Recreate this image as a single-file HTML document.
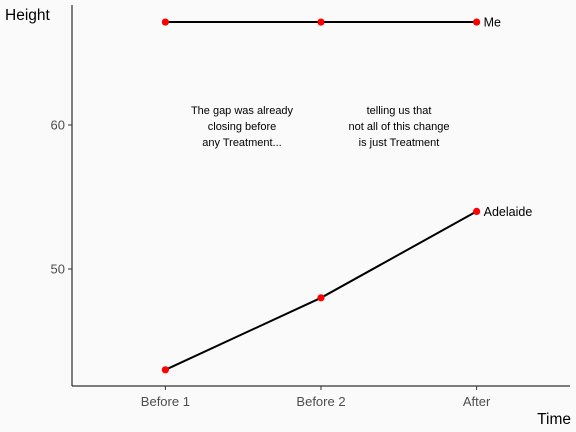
<!DOCTYPE html>
<html><head><meta charset="utf-8"><style>
body{margin:0;background:#fafafa;}
svg{display:block;font-family:"Liberation Sans",Arial,sans-serif;}
</style></head><body>
<svg id="chart" width="576" height="432">
<rect width="576" height="432" fill="#fafafa"/>
<g id="plot"></g>
</svg>
<script>
const categories = ["Before 1","Before 2","After"];
const meValues = [67.15, 67.15, 67.15];
const adelaideValues = [43, 48, 54];
const yTicks = [50, 60];
const seriesLabels = ["Me","Adelaide"];
const notes = [["The gap was already","closing before","any Treatment..."],["telling us that","not all of this change","is just Treatment"]];

const NS="http://www.w3.org/2000/svg";
const g=document.getElementById('plot');
const x0=72,x1=570,yTop=5,yBot=386;
function xs(i){return x0+(i+1-0.4)*(x1-x0)/3.2;}
function ys(v){return 269-(v-50)*14.4;}
function mk(t,a,p){const e=document.createElementNS(NS,t);for(const k in a)e.setAttribute(k,a[k]);(p||g).appendChild(e);return e;}

let e=mk('line',{x1:x0,y1:yTop,x2:x0,y2:yBot,stroke:'#000','stroke-width':1});


e=mk('line',{x1:x0,y1:yBot,x2:x1,y2:yBot,stroke:'#000','stroke-width':1});



yTicks.forEach(v=>{
  let t=mk('line',{x1:x0-4,y1:ys(v),x2:x0,y2:ys(v),stroke:'#333'});
  
  
  let l=mk('text',{x:x0-7,y:ys(v)+4.5,'text-anchor':'end','font-size':13,fill:'#4d4d4d'});
  l.textContent=v;
  
  
});
categories.forEach((c,i)=>{
  let t=mk('line',{x1:xs(i),y1:yBot,x2:xs(i),y2:yBot+4,stroke:'#333'});
  
  
  let l=mk('text',{x:xs(i),y:yBot+20,'text-anchor':'middle','font-size':13,fill:'#4d4d4d'});
  l.textContent=c;
  
  
});

[meValues,adelaideValues].forEach((vals,s)=>{
  let p=mk('polyline',{points:vals.map((v,i)=>xs(i)+','+ys(v)).join(' '),fill:'none',stroke:'#000','stroke-width':2});
  
  
  vals.forEach((v,i)=>{
    let c=mk('circle',{cx:xs(i),cy:ys(v),r:3.6,fill:'#ff0000'});
    
    
  });
  let l=mk('text',{x:xs(2)+7,y:ys(vals[2])+4.5,'font-size':12.5,fill:'#000'});
  l.textContent=seriesLabels[s];
  
  
});

const noteX=[242,399];
notes.forEach((lines,n)=>{
  lines.forEach((ln,k)=>{
    let t=mk('text',{x:noteX[n],y:114+k*16,'text-anchor':'middle','font-size':11,fill:'#000'});
    t.textContent=ln;
    
    
  });
});

e=mk('text',{x:5,y:20,'font-size':15.5,fill:'#000'});e.textContent='Height';


e=mk('text',{x:571,y:424,'text-anchor':'end','font-size':15.5,fill:'#000'});e.textContent='Time';


</script>
</body></html>
